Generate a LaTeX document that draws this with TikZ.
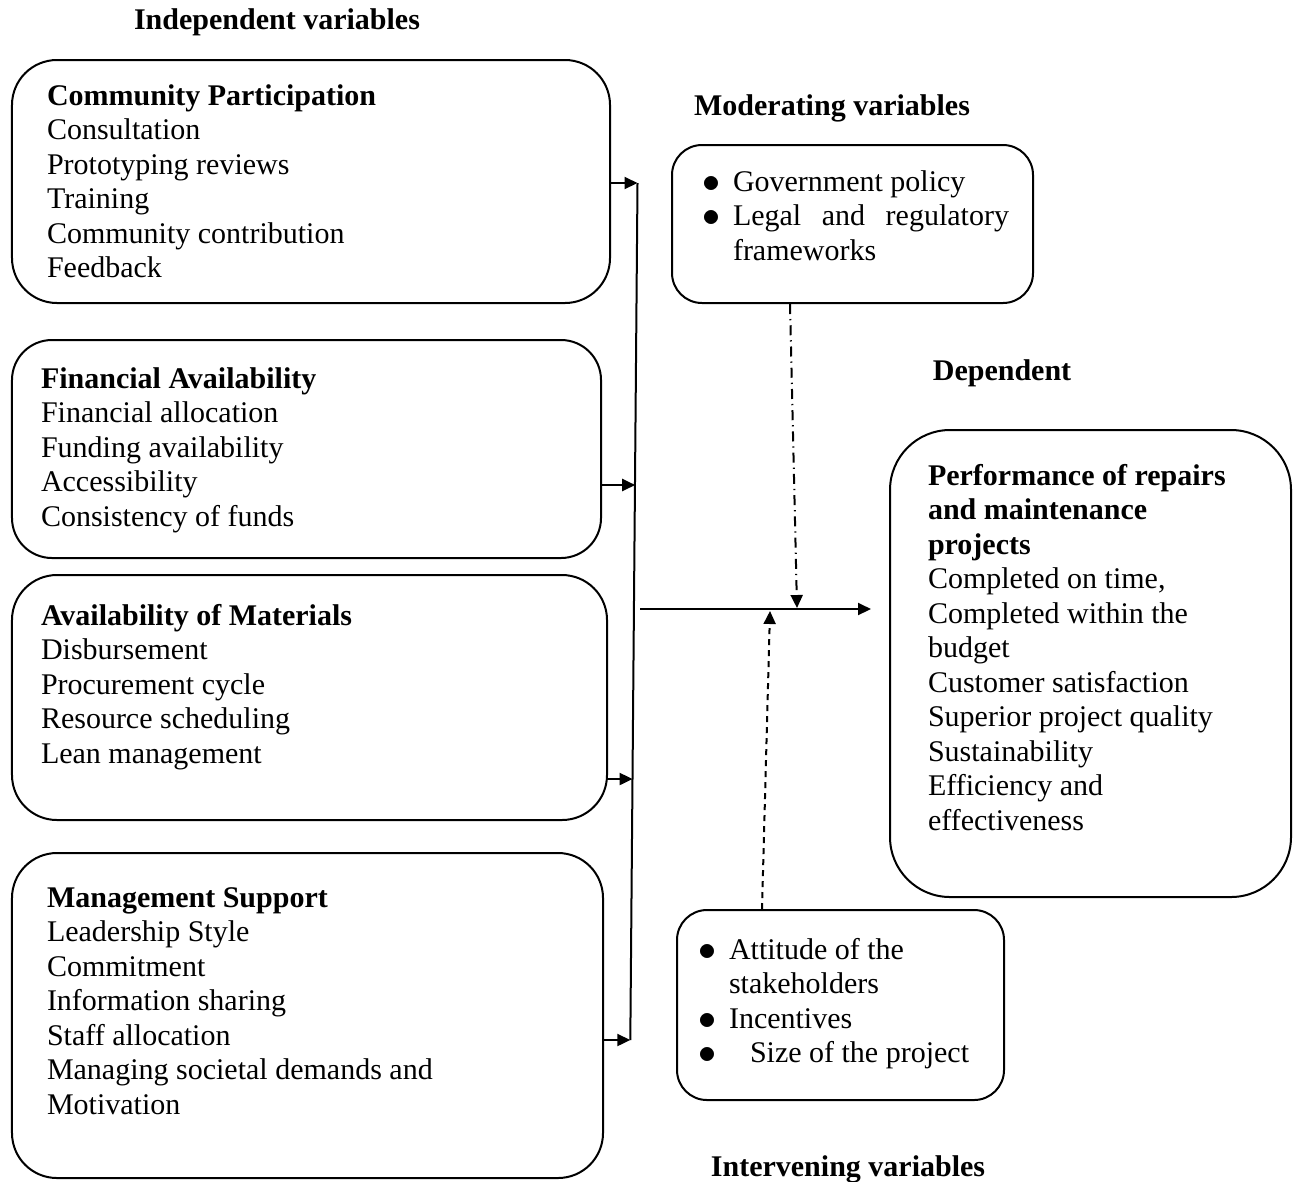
\documentclass[tikz,border=0pt]{standalone}
\usepackage{fontspec}
\setmainfont{Liberation Serif}
\usetikzlibrary{arrows.meta,calc}

\tikzset{
  varbox/.style={draw, line width=0.8pt, rounded corners=18pt, inner sep=0pt},
  itemtext/.style={anchor=north west, align=left, inner sep=0pt, font=\fontsize{12}{13.8}\selectfont},
  heading/.style={anchor=base, inner sep=0pt, font=\fontsize{12}{13.8}\selectfont\bfseries},
}
\newcommand{\bul}{\llap{\raisebox{-0.4pt}{\fontsize{15}{15}\selectfont$\bullet$}\hspace{5pt}}}

\begin{document}
\begin{tikzpicture}[x=0.4pt,y=-0.4pt,>={Triangle[length=5.2pt,width=4.8pt]},line width=0.8pt]
    \useasboundingbox (0,0) rectangle (1298,1181);

    % boxes
    \node[varbox, minimum width=239.2pt, minimum height=97.2pt] (cp) at (311,181.5) {};
    \node[varbox, rounded corners=16pt, minimum width=235.6pt, minimum height=87.2pt] (fa) at (306.5,449) {};
    \node[varbox, minimum width=238pt, minimum height=98pt] (am) at (309.5,697.5) {};
    \node[varbox, minimum width=236.4pt, minimum height=130pt] (ms) at (307.5,1015.5) {};
    \node[varbox, rounded corners=12pt, minimum width=144.4pt, minimum height=63.2pt] (mod) at (852.5,224) {};
    \node[varbox, rounded corners=24pt, minimum width=160.4pt, minimum height=186.8pt] (dep) at (1090.5,663.5) {};
    \node[varbox, rounded corners=12pt, minimum width=130.8pt, minimum height=76pt] (int) at (840.5,1005) {};

    % texts
    \node[itemtext] (cptxt) at (46,80) {\strut\textbf{Community Participation}\\ Consultation\\ Prototyping reviews\\ Training\\ Community contribution\\ Feedback};
    \node[itemtext] (fatxt) at (40,363) {\strut\textbf{Financial Availability}\\ Financial allocation\\ Funding availability\\ Accessibility\\ Consistency of funds};
    \node[itemtext] (amtxt) at (40,600) {\strut\textbf{Availability of Materials}\\ Disbursement\\ Procurement cycle\\ Resource scheduling\\ Lean management};
    \node[itemtext] (mstxt) at (46,882) {\strut\textbf{Management Support}\\ Leadership Style\\ Commitment\\ Information sharing\\ Staff allocation\\ Managing societal demands and\\ Motivation};
    \node[itemtext, text width=110.4pt, align=justify] (modtxt) at (732,166) {\strut\bul Government policy\\ \bul Legal and regulatory frameworks};
    \node[itemtext] (deptxt) at (927,460) {\strut\textbf{Performance of repairs}\\ \textbf{and maintenance}\\ \textbf{projects}\\ Completed on time,\\ Completed within the\\ budget\\ Customer satisfaction\\ Superior project quality\\ Sustainability\\ Efficiency and\\ effectiveness};
    \node[itemtext] (inttxt) at (728,934) {\strut\bul Attitude of the\\ stakeholders\\ \bul Incentives\\ \bul\hspace{8.4pt}Size of the project};

    % headings
    \node[heading] (indep) at (277,29) {Independent variables};
    \node[heading] (modh) at (832,115) {Moderating variables};
    \node[heading] (deph) at (1002,380) {Dependent};
    \node[heading] (inth) at (848,1176) {Intervening variables};

    % connectors
    \coordinate (b1) at (637.5,183);
    \coordinate (b2) at (635.2,485);
    \coordinate (b3) at (632.6,779);
    \coordinate (b4) at (630.3,1040);
    \draw (b1) -- (b4);
    \draw[->] (cp.east |- b1) -- (b1);
    \draw[->] (fa.east |- b2) -- (b2);
    \draw[->] (am.east |- b3) -- (b3);
    \draw[->] (ms.east |- b4) -- (b4);

    \coordinate (j) at (640,609);
    \draw[->] (j) -- ($(dep.west |- j)+(-18,0)$);

    \coordinate (mtip) at (797,608);
    \draw[->, dash pattern=on 4pt off 2pt on 0.5pt off 2pt] ($(mod.south)+(-62.5,0)$) -- (mtip);
    \coordinate (itip) at (770,611);
    \draw[->, dash pattern=on 2.4pt off 2pt] ($(int.north)+(-78.5,0)$) -- (itip);
\end{tikzpicture}
\end{document}
